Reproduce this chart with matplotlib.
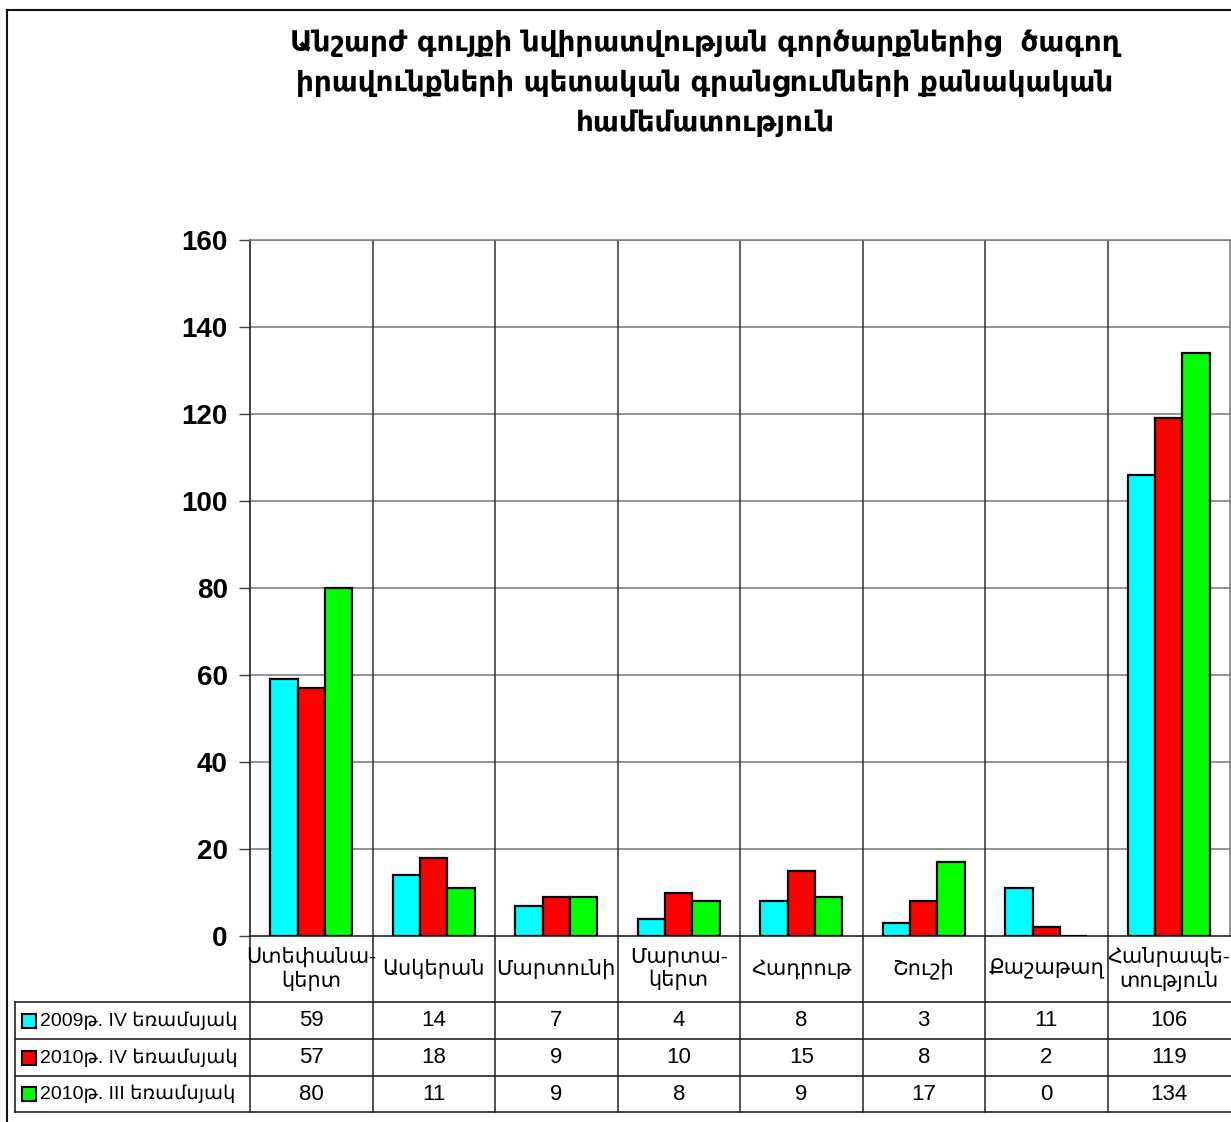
import numpy as np
import matplotlib.pyplot as plt
import matplotlib.transforms as mtransforms
from matplotlib.patches import Rectangle

# ---- data ----
categories = ["Ստեփանա-\nկերտ", "Ասկերան", "Մարտունի", "Մարտա-\nկերտ",
              "Հադրութ", "Շուշի", "Քաշաթաղ", "Հանրապե-\nտություն"]
series_names = ["2009թ. IV եռամսյակ", "2010թ. IV եռամսյակ", "2010թ. III եռամսյակ"]
q4_2009 = [59, 14, 7, 4, 8, 3, 11, 106]
q4_2010 = [57, 18, 9, 10, 15, 8, 2, 119]
q3_2010 = [80, 11, 9, 8, 9, 17, 0, 134]
series_values = [q4_2009, q4_2010, q3_2010]
colors = ["#00FFFF", "#FF0000", "#00FF00"]
yticks = [0, 20, 40, 60, 80, 100, 120, 140, 160]
title = ("Անշարժ գույքի նվիրատվության գործարքներից  ծագող\n"
         "իրավունքների պետական գրանցումների քանակական\n"
         "համեմատություն")

W, H = 1231, 1122
FAM = ['Liberation Sans', 'DejaVu Sans']
plt.rcParams['font.family'] = FAM

fig = plt.figure(figsize=(W / 100, H / 100), dpi=100)

def fx(px):
    return px / W

def fy(py):
    return 1 - py / H

# plot area
x0, x1, ytop, ybot = 250, 1230, 240, 936
ax = fig.add_axes([fx(x0), fy(ybot), fx(x1) - fx(x0), fy(ytop) - fy(ybot)])

n = len(categories)
x = np.arange(n)
bw = 0.223
for i, (vals, c) in enumerate(zip(series_values, colors)):
    ax.bar(x + (i - 1) * bw, vals, bw, color=c, edgecolor='black', linewidth=1.6, zorder=3)

ax.set_xlim(-0.5, n - 0.5)
ax.set_ylim(0, 160)
ax.set_yticks(yticks)
ax.set_yticklabels([str(v) for v in yticks], fontsize=20, fontweight='bold')
ax.set_xticks([])
ax.tick_params(axis='y', length=8, width=1, color='#404040', pad=8)
for v in yticks[1:]:
    ax.axhline(v, color='#808080', lw=1.2, zorder=1)
for b in np.arange(0.5, n - 0.5, 1):
    ax.axvline(b, color='#333333', lw=1.1, zorder=1)
ax.spines['left'].set_color('#222222')
ax.spines['bottom'].set_color('#222222')
ax.spines['top'].set_color('#808080')
ax.spines['right'].set_color('#808080')
for s in ax.spines.values():
    s.set_linewidth(1.2)

# ---- data table below the plot ----
tr = mtransforms.blended_transform_factory(ax.transData, fig.transFigure)
row_y = [936, 1002, 1039, 1076, 1112]
lc = '#222222'
for py in row_y[1:]:
    fig.add_artist(plt.Line2D([fx(15), fx(W)], [fy(py), fy(py)], color=lc, lw=1.2))
for b in np.arange(-0.5, n - 0.5, 1):
    ax.plot([b, b], [fy(row_y[0]), fy(row_y[-1])], color=lc, lw=1.1,
            transform=tr, clip_on=False)
fig.add_artist(plt.Line2D([fx(15), fx(15)], [fy(row_y[1]), fy(row_y[-1])], color=lc, lw=1.2))

# category labels
for i, cat in enumerate(categories):
    ax.text(i, fy((row_y[0] + row_y[1]) / 2), cat, transform=tr, ha='center', va='center',
            fontsize=15, family=FAM, linespacing=1.2)

# series rows
for r, (name, vals, c) in enumerate(zip(series_names, series_values, colors)):
    yc = (row_y[r + 1] + row_y[r + 2]) / 2
    fig.add_artist(Rectangle((fx(22), fy(yc + 7)), fx(14), 14 / H, facecolor=c,
                             edgecolor='black', lw=1.5, transform=fig.transFigure))
    fig.text(fx(40), fy(yc), name, ha='left', va='center', fontsize=14, family=FAM)
    for i, v in enumerate(vals):
        ax.text(i, fy(yc), str(v), transform=tr, ha='center', va='center', fontsize=16)

# outer frame
fig.add_artist(plt.Line2D([fx(7), fx(7)], [fy(10), 0], color='#111111', lw=1.5))
fig.add_artist(plt.Line2D([fx(7), 1], [fy(10), fy(10)], color='#111111', lw=1.5))

fig.text(fx(705), fy(83), title, ha='center', va='center', fontsize=20,
         fontweight='bold', family=['DejaVu Sans'], linespacing=1.55)

fig.savefig('out.png', dpi=100)
